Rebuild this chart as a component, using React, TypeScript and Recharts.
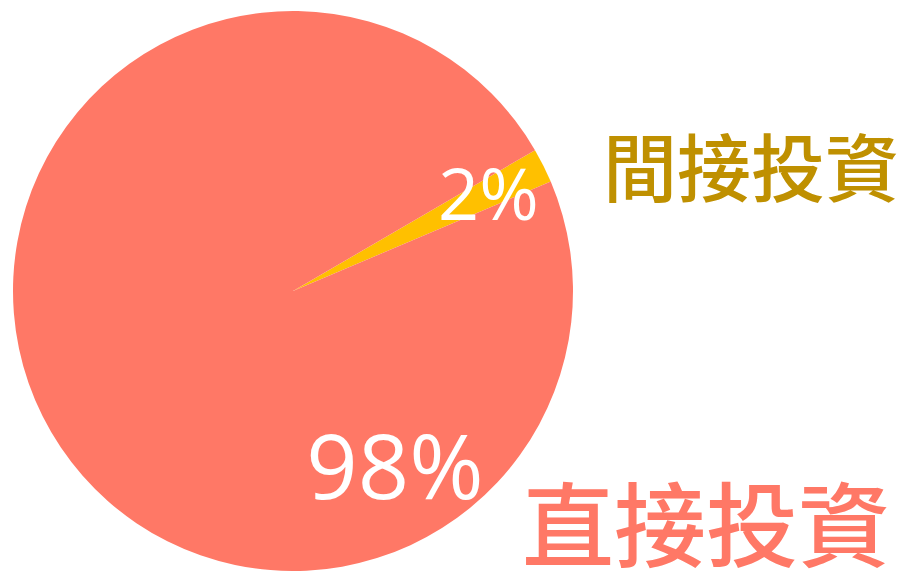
import { PieChart, Pie, Cell } from 'recharts'

const NAMES = ['間接投資', '直接投資']
const VALUES = [2, 98]
const COLORS = ['#FFC000', '#FF7866']
const NAME_COLORS = ['#BF9000', '#FF7866']

const chartData = NAMES.map((name, i) => ({ name, value: VALUES[i] }))

// label placement relative to pie centre, in units of the outer radius
const PCT_POS = [[0.698, -0.352], [0.364, 0.618]]
const NAME_POS = [[1.636, -0.454], [1.475, 0.816]]
const PCT_SIZE = [72, 90]
const NAME_SIZE = [74, 92]

const renderLabel = (props: any) => {
  const { cx, cy, outerRadius, index, percent } = props
  const r = outerRadius
  const [px, py] = PCT_POS[index]
  const [nx, ny] = NAME_POS[index]
  return (
    <g key={index}>
      <text x={cx + px * r} y={cy + py * r} fill="#fff" textAnchor="middle" dominantBaseline="central"
        fontFamily="'Open Sans', sans-serif" fontSize={PCT_SIZE[index]}>
        {`${Math.round(percent * 100)}%`}
      </text>
      <text x={cx + nx * r} y={cy + ny * r} fill={NAME_COLORS[index]} textAnchor="middle" dominantBaseline="central"
        fontFamily="'Noto Sans CJK TC', sans-serif" fontWeight={500} fontSize={NAME_SIZE[index]}>
        {NAMES[index]}
      </text>
    </g>
  )
}

export default function App() {
  return (
    <div style={{ position: 'absolute', left: 0, top: 0, width: 901, height: 571, background: '#fff' }}>
      <PieChart width={901} height={571} margin={{ top: 0, right: 0, bottom: 0, left: 0 }}>
        <Pie data={chartData} dataKey="value" cx={293} cy={291} outerRadius={280}
          startAngle={23} endAngle={383} stroke="none" labelLine={false} label={renderLabel}
          isAnimationActive={false}>
          {chartData.map((_, i) => (
            <Cell key={i} fill={COLORS[i]} />
          ))}
        </Pie>
      </PieChart>
    </div>
  )
}
